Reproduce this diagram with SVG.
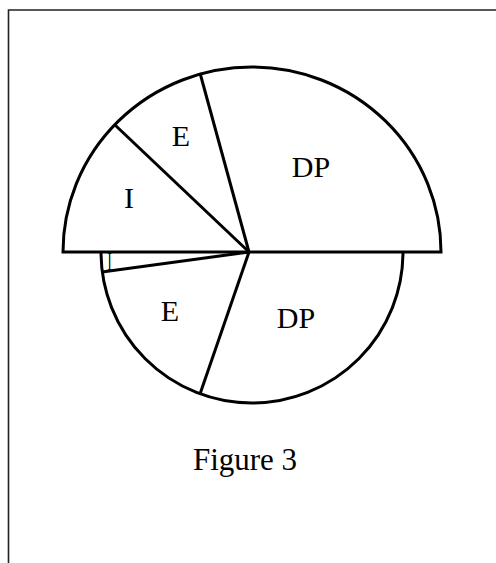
<svg xmlns="http://www.w3.org/2000/svg" width="496" height="563" viewBox="0 0 496 563">
<style>
.s{fill:none;stroke:#000;stroke-width:3;stroke-linejoin:miter}
.t{font-family:"Liberation Serif","Times New Roman",serif;font-size:30px;fill:#000;text-anchor:middle}
</style>
<rect width="496" height="563" fill="#fff"/>
<g id="frame"><path d="M8.5,563 V10 H496" fill="none" stroke="#222" stroke-width="1.6"/></g>
<g id="top-half">
<path class="s" d="M63,252 A189,185 0 0 1 441,252 Z"/>
</g>
<g id="bottom-half">
<path class="s" d="M101,252 A151,151 0 0 0 403,252"/>
</g>
<g id="connectors">
<line class="s" x1="249" y1="252" x2="200" y2="73"/>
<line class="s" x1="249" y1="252" x2="115" y2="125"/>
<line class="s" x1="249" y1="252" x2="102" y2="272"/>
<line class="s" x1="249" y1="252" x2="200" y2="394"/>
</g>
<g id="labels">
<text class="t" x="129" y="208">I</text>
<text class="t" x="181" y="146">E</text>
<text class="t" x="311" y="177">DP</text>
<text class="t" x="170" y="321">E</text>
<text class="t" x="296" y="328">DP</text>
<text class="t" transform="translate(109.5,270) scale(0.5,1)" x="0" y="0" style="font-size:25px">I</text>
<text class="t" x="245" y="470" style="font-size:31px">Figure 3</text>
</g>
</svg>
